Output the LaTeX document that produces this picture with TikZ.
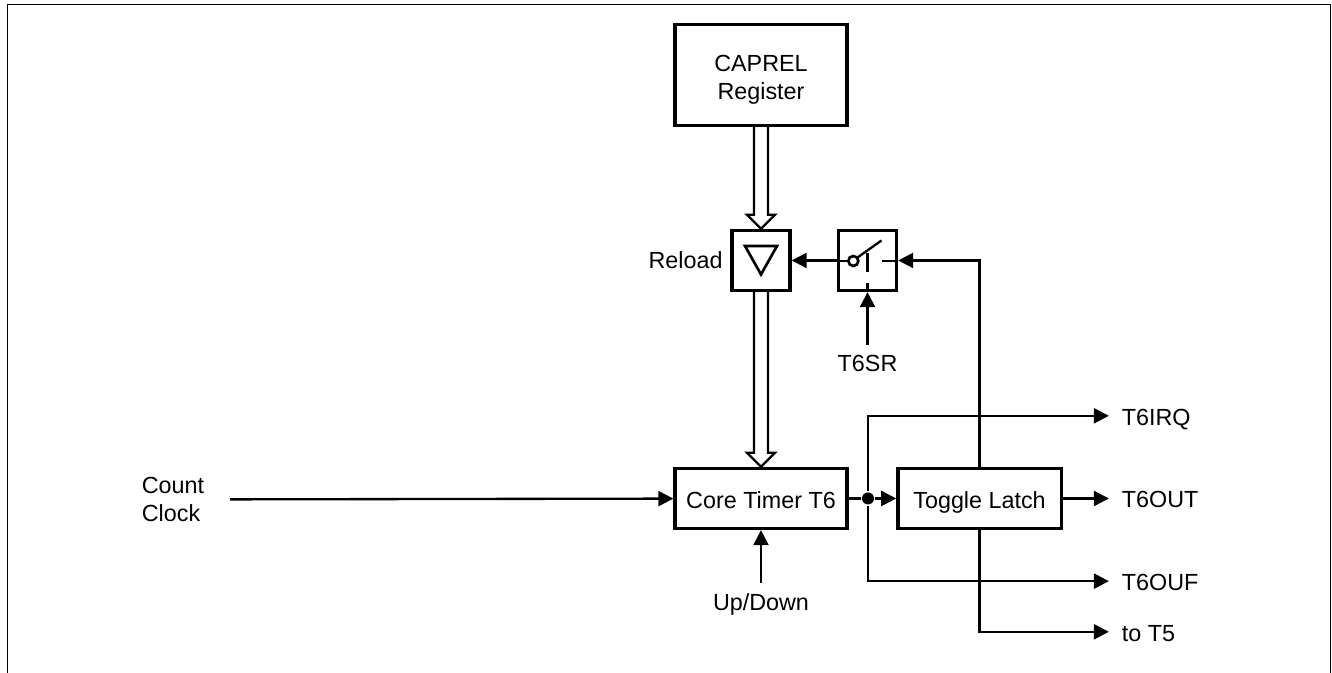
\documentclass[tikz,border=0pt]{standalone}
\usepackage{fontspec}
\setmainfont{Liberation Sans}
\usepackage{tikz}
\usetikzlibrary{arrows.meta}
\usetikzlibrary{positioning}

\begin{document}
\begin{tikzpicture}[->,>={Triangle[length=11.25pt,width=11.25pt]},x=0.75pt,y=-0.75pt,line width=1.75pt,font=\fontsize{17.5pt}{21pt}\selectfont]
    % 设置节点样式
    \tikzstyle{blockbox}=[draw=black,fill=white,line width=2.5pt,align=center,minimum height=45pt,text height=15pt,text depth=0pt]
    \tikzstyle{smallbox}=[blockbox,minimum width=43.5pt,minimum height=45pt,inner sep=0pt]
    \tikzstyle{sigtext}=[inner sep=0pt,outer xsep=9.75pt,anchor=west,text height=14pt,text depth=0pt]
    \tikzstyle{dotnode}=[circle,fill=black,inner sep=0pt,minimum size=9pt]
    \tikzstyle{bus}=[-,to path={([xshift=-5.25pt]\tikztostart) -- ([xshift=-5.25pt,yshift=10.5pt]\tikztotarget) -- ([xshift=-10.5pt,yshift=10.5pt]\tikztotarget) -- (\tikztotarget) -- ([xshift=10.5pt,yshift=10.5pt]\tikztotarget) -- ([xshift=5.25pt,yshift=10.5pt]\tikztotarget) -- ([xshift=5.25pt]\tikztostart)}]

    \useasboundingbox (0,0) rectangle (1332,673);
    \draw[-,line width=1pt] (7.5,673) -- (7.5,4.5) -- (1330.5,4.5) -- (1330.5,673);

    % 定义节点
    \node[blockbox,minimum width=129pt,minimum height=75.75pt,text height=37pt] (caprel) at (761,75) {CAPREL\\Register};
    \node[smallbox] (reload) [below of=caprel,node distance=139.1pt] {};
    \node[smallbox] (switch) [right of=reload,node distance=79.9pt] {};
    \node[blockbox,minimum width=129pt] (core) [below of=reload,node distance=178.5pt] {Core Timer T6};
    \node[blockbox,minimum width=122.5pt] (toggle) [right of=core,node distance=163.9pt] {Toggle Latch};
    \node[dotnode] (junc) [right of=core,node distance=80.25pt] {};
    \node[minimum width=84pt,inner sep=0pt,align=left,yshift=-0.75pt] (clock) [left of=core,node distance=441pt] {Count\\Clock};
    \node[inner sep=0pt,anchor=east] (reloadtext) [left=5pt of reload] {Reload};
    \node[inner sep=0pt,outer ysep=8pt] (t6sr) [below=39.5pt of switch] {T6SR};
    \node[inner sep=0pt,outer ysep=8pt] (updown) [below=39.5pt of core] {Up/Down};
    \node[sigtext] (t6out) [right=34.5pt of toggle,anchor=west] {T6OUT};
    \node[sigtext] (t6irq) [above=62pt of t6out.west,anchor=west] {T6IRQ};
    \node[sigtext] (t6ouf) [below=62pt of t6out.west,anchor=west] {T6OUF};
    \node[sigtext] (tofive) [below=100pt of t6out.west,anchor=west] {to T5};

    % 定义路径
    \draw[bus] (caprel.south) to (reload.north);
    \draw[bus] (reload.south) to (core.north);
    \draw (switch) -- (reload);
    \draw (t6sr) -- (switch);
    \draw (updown) -- (core);
    \draw (clock) -- (core);
    \draw[-] (core) -- (junc);
    \draw (junc) -- (toggle);
    \draw (toggle) -- (t6out);
    \draw (junc) |- (t6irq);
    \draw (junc) |- (t6ouf);
    \draw (toggle.south) |- (tofive);
    \draw (toggle.north) |- (switch.east);

    % 开关和三角形
    \draw[-,shift={(reload)},line width=2pt] (-16,-14.5) -- (16,-14.5) -- (0,14) -- cycle;
    \draw[-,shift={(switch)}] (-29,0.5) -- (-19,0.5);
    \draw[-,shift={(switch)}] (-10,-3) -- (14,-20);
    \draw[-,shift={(switch)},line width=2pt,fill=white] (-14.2,0.5) circle (5);
    \draw[-,shift={(switch)},line width=2pt] (0,-7.5) -- (0,11.5);
    \draw[-,shift={(switch)},line width=2pt] (0,22.5) -- (0,31);
    \draw[-,shift={(switch)}] (14.5,0.5) -- (29,0.5);
\end{tikzpicture}
\end{document}
